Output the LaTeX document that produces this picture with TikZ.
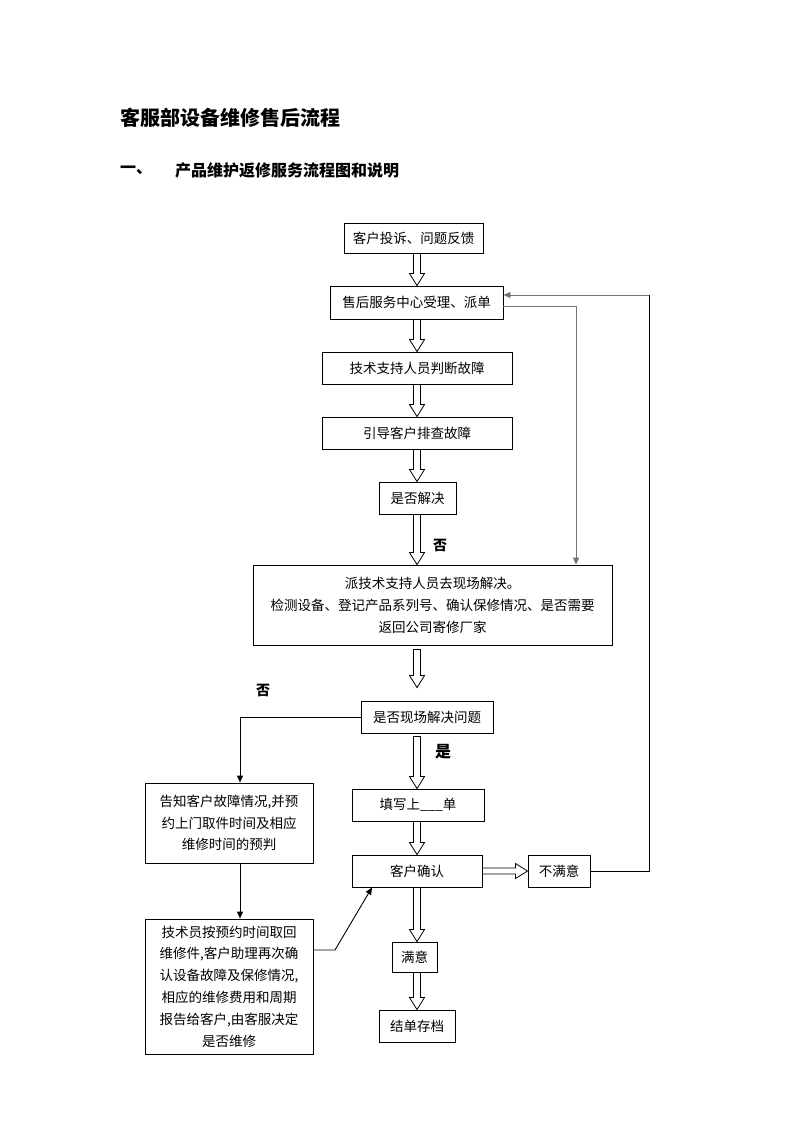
\documentclass[tikz,border=0pt]{standalone}
\usepackage{fontspec}
\setmainfont{Noto Sans CJK SC}
\usetikzlibrary{calc,arrows.meta}
\newcommand\varr[2]{\draw[hollow] let \p1=(#1), \p2=(#2) in (\x1-3.5pt,\y1) -- (\x1-3.5pt,\y2+12pt) -- (\x1-7.5pt,\y2+12pt) -- (\x1,\y2) -- (\x1+7.5pt,\y2+12pt) -- (\x1+3.5pt,\y2+12pt) -- (\x1+3.5pt,\y1) -- cycle;}
\newcommand\harr[2]{\draw[hollow] let \p1=(#1), \p2=(#2) in (\x1,\y1+3pt) -- (\x2-12pt,\y1+3pt) -- (\x2-12pt,\y1+7.5pt) -- (\x2,\y1) -- (\x2-12pt,\y1-7.5pt) -- (\x2-12pt,\y1-3pt) -- (\x1,\y1-3pt) -- cycle;}
\tikzset{
  box/.style={draw=black,line width=0.9pt,inner sep=0pt,align=center,font=\fontsize{13.5}{22}\selectfont},
  hollow/.style={draw=black,line width=0.8pt,fill=white,line join=miter},
  conn/.style={draw=black,line width=0.9pt,-{Triangle[length=7pt,width=6pt]}},
  gconn/.style={conn,draw=black!55},
  lab/.style={inner sep=0pt,font=\fontsize{14}{14}\selectfont\bfseries},
}
\begin{document}
\begin{tikzpicture}[x=1pt,y=-1pt]
\fill[white] (0,0) rectangle (793,1122);
\useasboundingbox (0,0) rectangle (793,1122);
% headings
\node[anchor=west,inner sep=0pt,font=\fontsize{20}{20}\selectfont\bfseries] (title) at (120,118) {客服部设备维修售后流程};
\node[anchor=west,inner sep=0pt,font=\fontsize{16}{16}\selectfont\bfseries] (h1) at (120,170) {一、};
\node[anchor=west,inner sep=0pt,font=\fontsize{16}{16}\selectfont\bfseries] (h2) at (175,170) {产品维护返修服务流程图和说明};
% reference coordinates
\coordinate (ax) at (417,0);
\coordinate (cx) at (576,0);
\coordinate (lt) at (649,295);
\coordinate (lx) at (240,0);
\coordinate (k) at (335,950);
\coordinate (k2) at (372,0);
% boxes
\node[box,minimum width=139pt,minimum height=30pt] (b1) at (413.5,238) {客户投诉、问题反馈};
\node[box,minimum width=173pt,minimum height=33pt] (b2) at (416.5,302.5) {售后服务中心受理、派单};
\node[box,minimum width=190pt,minimum height=32pt] (b3) at (417,368) {技术支持人员判断故障};
\node[box,minimum width=190pt,minimum height=32pt] (b4) at (417,433) {引导客户排查故障};
\node[box,minimum width=77pt,minimum height=32pt] (b5) at (417.5,498) {是否解决};
\node[box,minimum width=359pt,minimum height=80pt] (b6) at (432.5,605) {派技术支持人员去现场解决。\\检测设备、登记产品系列号、确认保修情况、是否需要\\返回公司寄修厂家};
\node[box,minimum width=132pt,minimum height=32pt] (b7) at (427,717) {是否现场解决问题};
\node[box,minimum width=132pt,minimum height=32pt] (b8) at (418,805) {填写上\_\_\_单};
\node[box,minimum width=130pt,minimum height=32pt] (b9) at (417,871) {客户确认};
\node[box,minimum width=62pt,minimum height=32pt] (b10) at (559,871) {不满意};
\node[box,minimum width=45pt,minimum height=30pt] (b11) at (414.5,957) {满意};
\node[box,minimum width=76pt,minimum height=32pt] (b12) at (417,1026) {结单存档};
\node[box,minimum width=168pt,minimum height=80pt,font=\fontsize{13.5}{21.5}\selectfont] (l1) at (229,823) {告知客户故障情况,并预\\约上门取件时间及相应\\维修时间的预判};
\node[box,minimum width=168pt,minimum height=135pt,font=\fontsize{13.5}{21.8}\selectfont] (l2) at (229,986.5) {技术员按预约时间取回\\维修件,客户助理再次确\\认设备故障及保修情况,\\相应的维修费用和周期\\报告给客户,由客服决定\\是否维修};
% labels
\node[lab] (no1) at (440,545) {否};
\node[lab] (no2) at (263,690) {否};
\node[lab,font=\fontsize{16}{16}\selectfont\bfseries] (yes) at (443,752) {是};
% hollow arrows
\varr{b1.south -| ax}{b2.north -| ax}
\varr{b2.south -| ax}{b3.north -| ax}
\varr{b3.south -| ax}{b4.north -| ax}
\varr{b4.south -| ax}{b5.north -| ax}
\varr{b5.south -| ax}{b6.north -| ax}
\varr{$(b6.south -| ax)+(0,4)$}{$(b7.north -| ax)+(0,-13)$}
\varr{$(b7.south -| ax)+(0,3)$}{b8.north -| ax}
\varr{b8.south -| ax}{b9.north -| ax}
\varr{b9.south -| ax}{b11.north -| ax}
\varr{b11.south -| ax}{b12.north -| ax}
\harr{b9.east}{b10.west}
% connectors
\draw[gconn] ([yshift=-3.5pt]b2.east) -| (b6.north -| cx);
\draw[conn,-] (b10.east) -| (lt);
\draw[gconn] (lt) -- (b2.east |- lt);
\draw[conn] (b7.west) -| (l1.north -| lx);
\draw[conn] (l1.south -| lx) -- (l2.north -| lx);
\draw[conn] (l2.east |- k) -- (k) -- (b9.south -| k2);
\end{tikzpicture}
\end{document}
